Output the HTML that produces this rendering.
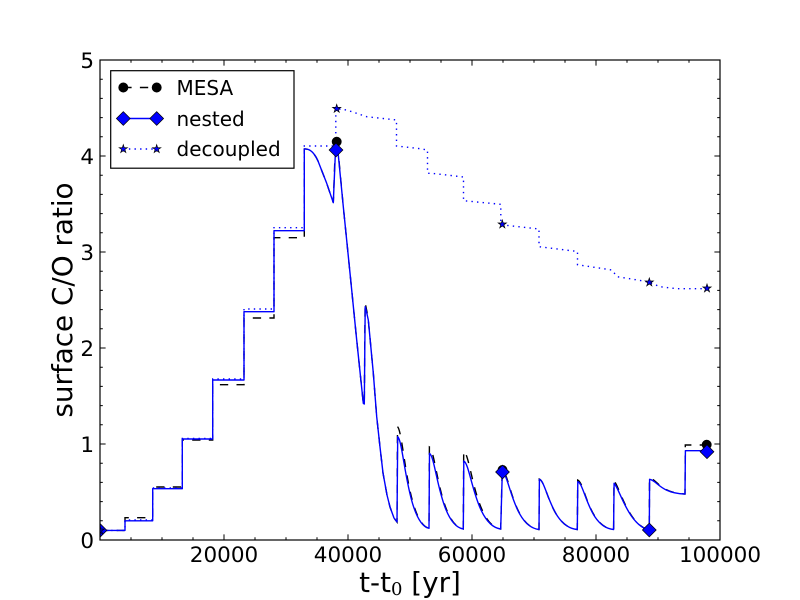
<!DOCTYPE html>
<html>
<head>
<meta charset="utf-8">
<style>
  html, body { margin: 0; padding: 0; background: #ffffff; }
  svg { display: block; }
  text { font-family: "DejaVu Sans", "Liberation Sans", sans-serif; fill: #000; }
</style>
</head>
<body>
<svg width="800" height="600" viewBox="0 0 800 600" xmlns="http://www.w3.org/2000/svg">
  <defs>
    <clipPath id="ax"><rect x="100" y="60" width="620" height="480"/></clipPath>
    <path id="star" d="M0,-4.3 L0.96,-1.32 L4.09,-1.33 L1.56,0.5 L2.53,3.48 L0,1.64 L-2.53,3.48 L-1.56,0.5 L-4.09,-1.33 L-0.96,-1.32Z" fill="#0000ff" stroke="#000" stroke-width="0.7"/>
    <path id="dia" d="M0,-6.9 L6.9,0 L0,6.9 L-6.9,0Z" fill="#0000ff" stroke="#000" stroke-width="0.7"/>
    <circle id="dot" r="4.6" fill="#000" stroke="#000" stroke-width="0.7"/>
  </defs>

  <rect x="0" y="0" width="800" height="600" fill="#fff"/>
  <rect x="100" y="60" width="620" height="480" fill="#fff"/>

  <g clip-path="url(#ax)">
    <!-- MESA (black dashed) -->
    <path fill="none" stroke="#000" stroke-width="1.4" stroke-dasharray="8.3,8.3"
      d="M100,530.4 H125 V517.7 H152.7 V487 H182.3 V440 H212.7 V384.7 H244 V318 H274 V237.7 H304.3 V149
         C309,148.5 314,152 318,161 L326.7,183.3 L333.3,202.7 L335.5,141.7 L338,150 L343.3,206.7 L350,273 L356.7,340 L363.3,403.3 L364.3,404 L365.1,302.7
         L367,312 L368.3,320 L373.3,373 L376.7,416.7 L380,447 L383,473 L387,495 L390,507 L394,518 L397,522
         L397.5,426.7 c6.3,5.1 9.5,96.5 31.5,101.6
         L429.4,447 c6.8,4.1 10.2,77.9 33.9,82
         L463.7,451 c7.4,3.9 11.1,74.1 37,78
         L502.2,470 c7.4,3 11,56.5 36.8,59.5
         L539.3,479 c7.6,2.5 11.4,48 38,50.5
         L577.7,480 c7.2,2.5 10.8,47 35.9,49.5
         L614,481 c5.3,4.9 14.1,44.1 35.3,49
         L649.5,478 c7.1,0.8 10.7,15.2 35.5,16
         L685.3,445 H707"/>
    <!-- nested (blue solid) -->
    <path fill="none" stroke="#0000ff" stroke-width="1.4" stroke-linejoin="round"
      d="M100,530.4 H125 V520.8 H152.7 V488.7 H182.3 V439 H212.7 V380 H244 V311.7 H274 V230.7 H304.3 V149
         C309,148.5 314,152 318,161 L326.7,183.3 L333.3,202.7 L335.5,150 L338,152 L343.3,206.7 L350,273 L356.7,340 L363.3,403.3 L364.3,404 L365.2,306.7
         L367,314 L368.3,320 L373.3,373 L376.7,416.7 L380,447 L383,473 L387,495 L390,507 L394,518 L397,522
         L397.7,436.7 c6.3,4.6 9.4,87 31.3,91.6
         L429.5,453.3 c6.8,3.8 10.1,71.9 33.8,75.7
         L463.8,461 c7.4,3.4 11.1,64.6 36.9,68
         L502.3,472 c7.3,2.9 11,54.6 36.7,57.5
         L539.4,479.3 c7.6,2.5 11.4,47.7 37.9,50.2
         L577.8,481.7 c7.2,2.4 10.7,45.4 35.8,47.8
         L614.1,483.3 c5.3,4.7 14.1,42 35.2,46.7
         L649.6,479.3 c7.1,0.7 10.6,14 35.4,14.7
         L685.4,450.7 H707"/>
    <!-- decoupled (blue dotted) -->
    <path fill="none" stroke="#0000ff" stroke-width="1.4" stroke-dasharray="1.4,4.2"
      d="M100,530.4 H125 V520 H152.7 V488 H182.3 V438.5 H212.7 V379 H244 V309 H274 V227.7 H304.3 V146 H335.8 V108.7
         L346.7,110 L366.7,116.7 L396.5,120 V146 L420,148.7 L427.5,150 V173.3 L432,173.3 L463.5,177 V200.7
         L500.8,204.3 V224.3 L506,225.3 L539,229 V246.7 L577.5,251.5 V264.7 L611.7,270 L617.3,276.7
         L641.7,280.7 L649.3,282.3 L660,286.7 L676.7,288.7 L707,288.7"/>

    <!-- MESA markers -->
    <use href="#dot" x="100" y="530.4"/>
    <use href="#dot" x="336.7" y="141.7"/>
    <use href="#dot" x="502.5" y="470"/>
    <use href="#dot" x="649.3" y="530"/>
    <use href="#dot" x="706.7" y="444.7"/>
    <!-- nested markers -->
    <use href="#dia" x="100" y="530.4"/>
    <use href="#dia" x="336" y="150"/>
    <use href="#dia" x="502.5" y="472"/>
    <use href="#dia" x="649.3" y="530"/>
    <use href="#dia" x="707" y="451.7"/>
    <!-- decoupled markers -->
    <use href="#star" x="100" y="530.4"/>
    <use href="#star" x="336.7" y="108.7"/>
    <use href="#star" x="502.3" y="224.3"/>
    <use href="#star" x="649.3" y="282.3"/>
    <use href="#star" x="707" y="288.3"/>
  </g>

  <!-- axes frame -->
  <rect x="100" y="60" width="620" height="480" fill="none" stroke="#000" stroke-width="1.2"/>

  <!-- ticks -->
  <path fill="none" stroke="#000" stroke-width="1"
    d="M224,540v-5.6 M348,540v-5.6 M472,540v-5.6 M596,540v-5.6
       M224,60v5.6 M348,60v5.6 M472,60v5.6 M596,60v5.6
       M131,540v-2.8 M162,540v-2.8 M193,540v-2.8 M255,540v-2.8 M286,540v-2.8 M317,540v-2.8
       M379,540v-2.8 M410,540v-2.8 M441,540v-2.8 M503,540v-2.8 M534,540v-2.8 M565,540v-2.8
       M627,540v-2.8 M658,540v-2.8 M689,540v-2.8
       M131,60v2.8 M162,60v2.8 M193,60v2.8 M255,60v2.8 M286,60v2.8 M317,60v2.8
       M379,60v2.8 M410,60v2.8 M441,60v2.8 M503,60v2.8 M534,60v2.8 M565,60v2.8
       M627,60v2.8 M658,60v2.8 M689,60v2.8
       M100,444h5.6 M100,348h5.6 M100,252h5.6 M100,156h5.6
       M720,444h-5.6 M720,348h-5.6 M720,252h-5.6 M720,156h-5.6
       M100,520.8h2.8 M100,501.6h2.8 M100,482.4h2.8 M100,463.2h2.8
       M100,424.8h2.8 M100,405.6h2.8 M100,386.4h2.8 M100,367.2h2.8
       M100,328.8h2.8 M100,309.6h2.8 M100,290.4h2.8 M100,271.2h2.8
       M100,232.8h2.8 M100,213.6h2.8 M100,194.4h2.8 M100,175.2h2.8
       M100,136.8h2.8 M100,117.6h2.8 M100,98.4h2.8 M100,79.2h2.8
       M720,520.8h-2.8 M720,501.6h-2.8 M720,482.4h-2.8 M720,463.2h-2.8
       M720,424.8h-2.8 M720,405.6h-2.8 M720,386.4h-2.8 M720,367.2h-2.8
       M720,328.8h-2.8 M720,309.6h-2.8 M720,290.4h-2.8 M720,271.2h-2.8
       M720,232.8h-2.8 M720,213.6h-2.8 M720,194.4h-2.8 M720,175.2h-2.8
       M720,136.8h-2.8 M720,117.6h-2.8 M720,98.4h-2.8 M720,79.2h-2.8"/>

  <!-- x tick labels -->
  <g font-size="21.5" text-anchor="middle">
    <text x="224" y="562">20000</text>
    <text x="348" y="562">40000</text>
    <text x="472" y="562">60000</text>
    <text x="596" y="562">80000</text>
    <text x="720" y="562">100000</text>
  </g>
  <!-- y tick labels -->
  <g font-size="21.5" text-anchor="end">
    <text x="94" y="547.8">0</text>
    <text x="94" y="451.8">1</text>
    <text x="94" y="355.8">2</text>
    <text x="94" y="259.8">3</text>
    <text x="94" y="163.8">4</text>
    <text x="94" y="67.8">5</text>
  </g>

  <!-- axis labels -->
  <text x="410" y="592" font-size="27.8" text-anchor="middle">t-t<tspan font-family="'DejaVu Serif', 'Liberation Serif', serif" font-size="18" dy="3">0</tspan><tspan dy="-3"> [yr]</tspan></text>
  <text transform="translate(72,300) rotate(-90)" font-size="27.8" text-anchor="middle">surface C/O ratio</text>

  <!-- legend -->
  <rect x="110.7" y="70.7" width="183.3" height="97.5" fill="#fff" stroke="#000" stroke-width="1.2"/>
  <line x1="123.3" y1="87.5" x2="156.7" y2="87.5" stroke="#000" stroke-width="1.4" stroke-dasharray="8.3,8.3"/>
  <use href="#dot" x="123.3" y="87.5"/>
  <use href="#dot" x="156.7" y="87.5"/>
  <line x1="123.3" y1="118.5" x2="156.7" y2="118.5" stroke="#0000ff" stroke-width="1.4"/>
  <use href="#dia" x="123.3" y="118.5"/>
  <use href="#dia" x="156.7" y="118.5"/>
  <line x1="123.3" y1="149" x2="156.7" y2="149" stroke="#0000ff" stroke-width="1.4" stroke-dasharray="1.4,4.2"/>
  <use href="#star" x="123.3" y="149"/>
  <use href="#star" x="156.7" y="149"/>
  <g font-size="20">
    <text x="176.5" y="95">MESA</text>
    <text x="176.5" y="126">nested</text>
    <text x="176.5" y="156">decoupled</text>
  </g>
</svg>
</body>
</html>
